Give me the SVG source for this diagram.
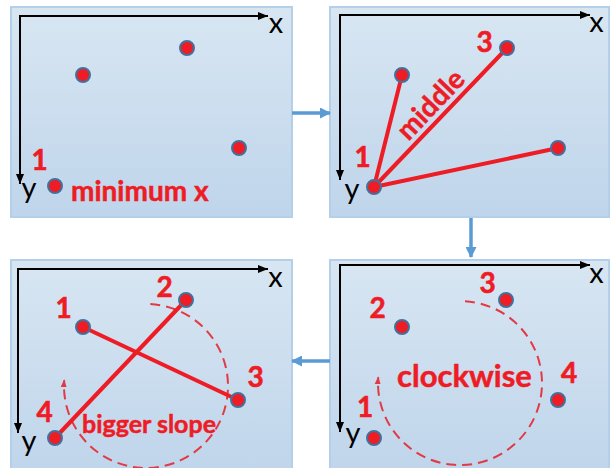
<svg xmlns="http://www.w3.org/2000/svg" width="611" height="468" viewBox="0 0 611 468">
<style>
.panel{fill:url(#pg);stroke:#b3cfe9;stroke-width:2}
.axis{fill:none;stroke:#000;stroke-width:2}
.seg{stroke:#ee1c25;stroke-width:4;stroke-linecap:round}
.pt{fill:#ee1c25;stroke:#41719c;stroke-width:2}
.ax{font-family:Lato,"Liberation Sans",sans-serif;font-size:29px;fill:#000;text-anchor:middle}
.num{font-family:Lato,"Liberation Sans",sans-serif;font-size:28px;font-weight:bold;fill:#ee1c25;stroke:#ee1c25;stroke-width:0.6;text-anchor:middle}
.lbl{font-family:Lato,"Liberation Sans",sans-serif;font-weight:bold;fill:#ee1c25;stroke:#ee1c25;stroke-width:0.5}
.dash{fill:none;stroke:#e23a45;stroke-width:2;stroke-dasharray:10 6}
.conn{stroke:#5b9bd5;stroke-width:3.5;fill:none}
</style>
<defs>
<linearGradient id="pg" x1="0" y1="0" x2="0" y2="1">
<stop offset="0" stop-color="#d8e6f2"/>
<stop offset="1" stop-color="#bfd5eb"/>
</linearGradient>
<marker id="ah" markerWidth="10" markerHeight="8" refX="10" refY="4" orient="auto-start-reverse" markerUnits="userSpaceOnUse">
<path d="M0,0 L10,4 L0,8 Z" fill="#000"/>
</marker>
<marker id="rh" markerWidth="8" markerHeight="8" refX="7" refY="4" orient="auto" markerUnits="userSpaceOnUse">
<path d="M0,1 L8,4 L0,7 Z" fill="#e23a45"/>
</marker>
<marker id="bh" markerWidth="11" markerHeight="11" refX="10" refY="5.5" orient="auto" markerUnits="userSpaceOnUse">
<path d="M0,0 L11,5.5 L0,11 Z" fill="#5b9bd5"/>
</marker>
</defs>

<g id="panel1">
<rect class="panel" x="11" y="7" width="281" height="210"/>
<path class="axis" d="M268,16 L20,16 L20,184" marker-start="url(#ah)" marker-end="url(#ah)"/>
<text class="ax" x="276" y="33">x</text>
<text class="ax" x="29" y="198">y</text>
<circle class="pt" cx="83" cy="75" r="7"/>
<circle class="pt" cx="187" cy="48" r="7"/>
<circle class="pt" cx="239" cy="148" r="7"/>
<circle class="pt" cx="55" cy="186" r="7"/>
<text class="num" x="39.5" y="170">1</text>
<text class="lbl" x="71" y="201" font-size="28">minimum x</text>
</g>

<g id="panel2">
<rect class="panel" x="330" y="7" width="279" height="210"/>
<path class="axis" d="M590,15 L340,15 L340,180" marker-start="url(#ah)" marker-end="url(#ah)"/>
<text class="ax" x="596.5" y="32">x</text>
<text class="ax" x="352" y="199">y</text>
<line class="seg" x1="374" y1="187" x2="402" y2="75"/>
<line class="seg" x1="374" y1="187" x2="507" y2="48"/>
<line class="seg" x1="374" y1="187" x2="558" y2="148"/>
<circle class="pt" cx="402" cy="75" r="7"/>
<circle class="pt" cx="507" cy="48" r="7"/>
<circle class="pt" cx="558" cy="148" r="7"/>
<circle class="pt" cx="374" cy="187" r="7"/>
<text class="num" x="362.5" y="167">1</text>
<text class="num" x="484.5" y="52">3</text>
<text class="lbl" font-size="28" text-anchor="middle" transform="translate(437.5,111.2) rotate(-46.3)">middle</text>
</g>

<g id="panel4">
<rect class="panel" x="330" y="260" width="279" height="215"/>
<path class="axis" d="M590,265 L340,265 L340,432" marker-start="url(#ah)" marker-end="url(#ah)"/>
<text class="ax" x="596.5" y="283">x</text>
<text class="ax" x="353" y="443">y</text>
<path class="dash" d="M465,301.2 A82,82 0 1 1 378.2,377.3" marker-end="url(#rh)"/>
<circle class="pt" cx="374" cy="438" r="7"/>
<circle class="pt" cx="402" cy="327" r="7"/>
<circle class="pt" cx="506" cy="300" r="7"/>
<circle class="pt" cx="558" cy="400" r="7"/>
<text class="num" x="365" y="417">1</text>
<text class="num" x="377.5" y="318">2</text>
<text class="num" x="487.5" y="293">3</text>
<text class="num" x="569" y="383">4</text>
<text class="lbl" x="397" y="387" font-size="31">clockwise</text>
</g>

<g id="panel3">
<rect class="panel" x="11" y="260" width="281" height="215"/>
<path class="axis" d="M268,269 L18,269 L18,433" marker-start="url(#ah)" marker-end="url(#ah)"/>
<text class="ax" x="275.5" y="287">x</text>
<text class="ax" x="29" y="451">y</text>
<path class="dash" d="M150.3,304.1 A82,82 0 1 1 64.2,380.3" marker-end="url(#rh)"/>
<line class="seg" x1="83" y1="327" x2="238" y2="400"/>
<line class="seg" x1="55" y1="438" x2="186" y2="300"/>
<circle class="pt" cx="83" cy="327" r="7"/>
<circle class="pt" cx="186" cy="300" r="7"/>
<circle class="pt" cx="238" cy="400" r="7"/>
<circle class="pt" cx="55" cy="438" r="7"/>
<text class="num" x="63.5" y="318">1</text>
<text class="num" x="164.5" y="297">2</text>
<text class="num" x="255.5" y="387">3</text>
<text class="num" x="44.5" y="422">4</text>
<text class="lbl" x="82" y="433" font-size="25">bigger slope</text>
</g>

<g id="connectors">
<line class="conn" x1="292" y1="113" x2="330" y2="113" marker-end="url(#bh)"/>
<line class="conn" x1="471" y1="218" x2="471" y2="257" marker-end="url(#bh)"/>
<line class="conn" x1="330" y1="361" x2="292" y2="361" marker-end="url(#bh)"/>
</g>
</svg>
